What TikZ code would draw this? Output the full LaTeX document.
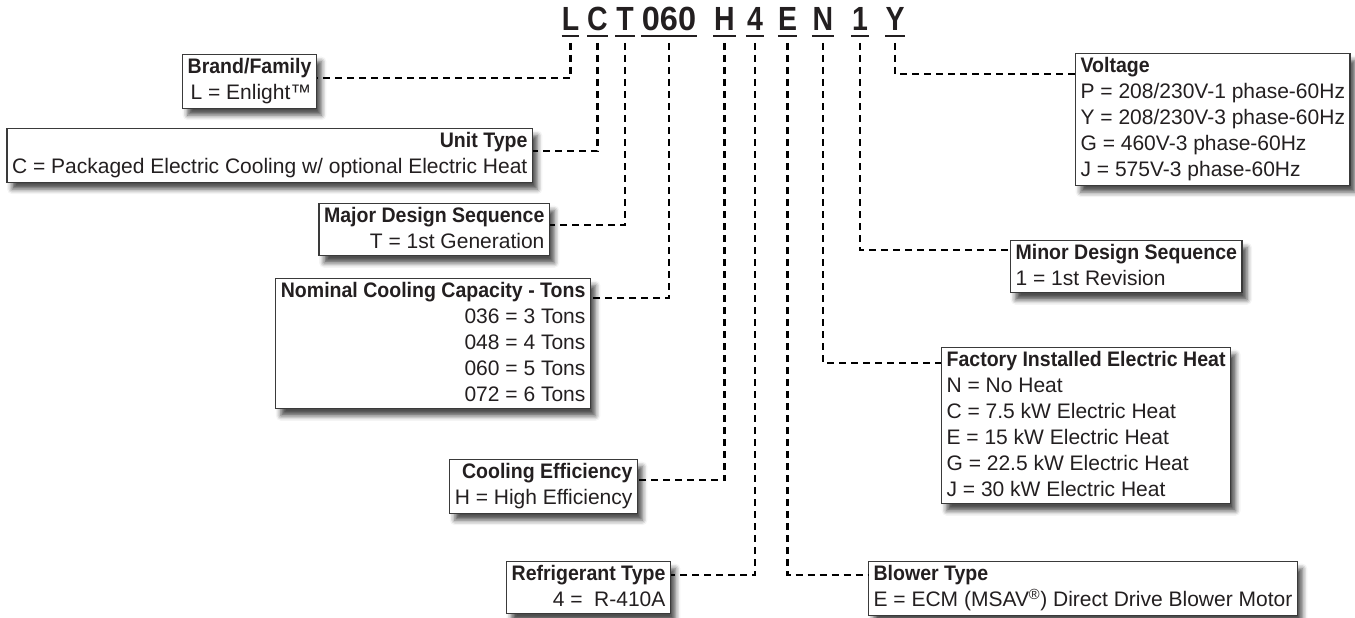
\documentclass[tikz,border=0pt]{standalone}
\usepackage{fontspec}
\setmainfont{Liberation Sans}[BoldFeatures={FakeStretch=0.93}]
\newfontfamily\codefont{Liberation Sans}[FakeStretch=0.85]
\newfontfamily\codefontwide{Liberation Sans}[FakeStretch=0.97]
\usepackage{tikz}
\usetikzlibrary{shadows.blur}

\definecolor{inkgray}{HTML}{231F20}
\definecolor{framegray}{HTML}{3A3A3A}

\tikzset{
  code/.style={anchor=base, inner sep=0pt, text=inkgray, font=\codefont\bfseries\fontsize{33.5}{36}\selectfont},
  codewide/.style={code, font=\codefontwide\bfseries\fontsize{33.5}{36}\selectfont},
  uline/.style={line width=2.2pt, inkgray},
  link/.style={line width=2.2pt, black, dash pattern=on 7pt off 5pt},
  infobox/.style={draw=framegray, line width=1.2pt, fill=white, text=inkgray,
    inner xsep=5pt, inner ysep=4pt, font=\fontsize{21}{26}\selectfont,
    execute at begin node={\rule{0pt}{20pt}}, execute at end node={\rule[-3pt]{0pt}{3pt}},
    blur shadow={shadow xshift=5pt, shadow yshift=-7pt, shadow blur radius=5pt, shadow opacity=70}},
  leftbox/.style={infobox, anchor=north east, align=right},
  rightbox/.style={infobox, anchor=north west, align=left},
}

\begin{document}
\begin{tikzpicture}[x=1pt, y=-1pt]
\useasboundingbox (0,0) rectangle (1355,618);

% model number
\node[code, minimum width=16pt] (cL) at (570.5,31) {L};
\node[code, minimum width=20pt] (cC) at (597.5,31) {C};
\node[code, minimum width=19pt] (cT) at (625,31) {T};
\node[codewide, minimum width=55pt] (cCap) at (669,31) {060};
\node[code, minimum width=22pt] (cH) at (724.5,31) {H};
\node[code, minimum width=18pt] (cR) at (755,31) {4};
\node[code, minimum width=18pt] (cE) at (787.5,31) {E};
\node[code, minimum width=22pt] (cN) at (823,31) {N};
\node[code, minimum width=17pt] (cOne) at (860,31) {1};
\node[code, minimum width=19pt] (cY) at (895,31) {Y};

\draw[uline] ([yshift=-5pt]cL.base west) -- ([yshift=-5pt]cL.base east);
\draw[uline] ([yshift=-5pt]cC.base west) -- ([yshift=-5pt]cC.base east);
\draw[uline] ([yshift=-5pt]cT.base west) -- ([yshift=-5pt]cT.base east);
\draw[uline] ([yshift=-5pt]cCap.base west) -- ([yshift=-5pt]cCap.base east);
\draw[uline] ([yshift=-5pt]cH.base west) -- ([yshift=-5pt]cH.base east);
\draw[uline] ([yshift=-5pt]cR.base west) -- ([yshift=-5pt]cR.base east);
\draw[uline] ([yshift=-5pt]cE.base west) -- ([yshift=-5pt]cE.base east);
\draw[uline] ([yshift=-5pt]cN.base west) -- ([yshift=-5pt]cN.base east);
\draw[uline] ([yshift=-5pt]cOne.base west) -- ([yshift=-5pt]cOne.base east);
\draw[uline] ([yshift=-5pt]cY.base west) -- ([yshift=-5pt]cY.base east);

% left side boxes
\node[leftbox] (brand) at (317,54)
  {\textbf{Brand/Family}\\ L = Enlight™};
\node[leftbox] (unit) at (533,128)
  {\textbf{Unit Type}\\ C = Packaged Electric Cooling w/ optional Electric Heat};
\node[leftbox] (major) at (550,203)
  {\textbf{Major Design Sequence}\\ T = 1st Generation};
\node[leftbox] (capacity) at (591,278)
  {\textbf{Nominal Cooling Capacity - Tons}\\ 036 = 3 Tons\\ 048 = 4 Tons\\ 060 = 5 Tons\\ 072 = 6 Tons};
\node[leftbox] (effic) at (638,459)
  {\textbf{Cooling Efficiency}\\ H = High Efficiency};
\node[leftbox] (refrig) at (671,561)
  {\textbf{Refrigerant Type}\\ 4 = \ R-410A};

% right side boxes
\node[rightbox] (volt) at (1075,53)
  {\textbf{Voltage}\\ P = 208/230V-1 phase-60Hz\\ Y = 208/230V-3 phase-60Hz\\ G = 460V-3 phase-60Hz\\ J = 575V-3 phase-60Hz};
\node[rightbox] (minor) at (1010,240)
  {\textbf{Minor Design Sequence}\\ 1 = 1st Revision};
\node[rightbox] (heat) at (941,347)
  {\textbf{Factory Installed Electric Heat}\\ N = No Heat\\ C = 7.5 kW Electric Heat\\ E = 15 kW Electric Heat\\ G = 22.5 kW Electric Heat\\ J = 30 kW Electric Heat};
\node[rightbox] (blower) at (868,561)
  {\textbf{Blower Type}\\ E = ECM (MSAV\textsuperscript{®}) Direct Drive Blower Motor};

% dashed leaders
\draw[link] ([yshift=-12pt]cL.base) |- ([yshift=-24pt]brand.north east);
\draw[link] ([yshift=-12pt]cC.base) |- ([yshift=-23pt]unit.north east);
\draw[link] ([yshift=-12pt]cT.base) |- ([yshift=-22pt]major.north east);
\draw[link] ([yshift=-12pt]cCap.base) |- ([yshift=-20pt]capacity.north east);
\draw[link] ([yshift=-12pt]cH.base) |- ([yshift=-21pt]effic.north east);
\draw[link] ([yshift=-12pt]cR.base) |- ([yshift=-14pt]refrig.north east);
\draw[link] ([yshift=-12pt]cE.base) |- ([yshift=-14pt]blower.north west);
\draw[link] ([yshift=-12pt]cN.base) |- ([yshift=-16pt]heat.north west);
\draw[link] ([yshift=-12pt]cOne.base) |- ([yshift=-10pt]minor.north west);
\draw[link] ([yshift=-12pt]cY.base) |- ([yshift=-21pt]volt.north west);

\end{tikzpicture}
\end{document}
